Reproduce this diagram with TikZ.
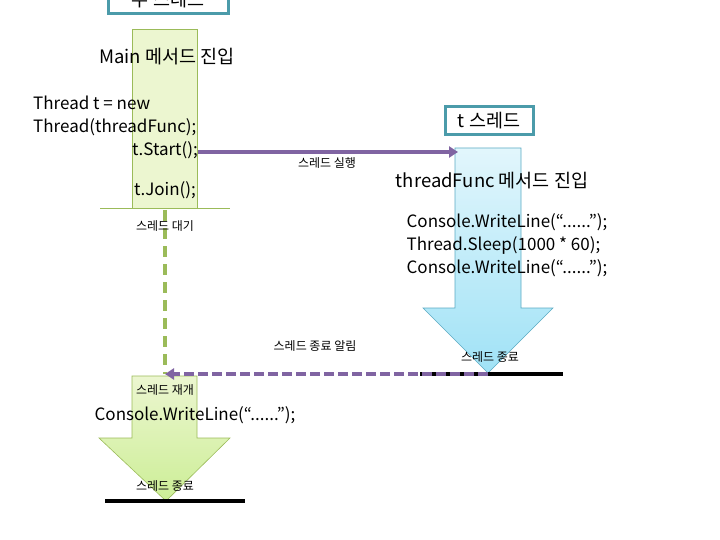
\documentclass[tikz,border=0pt]{standalone}
\usepackage{fontspec}
\setmainfont{Noto Sans CJK KR}
\usetikzlibrary{positioning, arrows.meta}

\definecolor{boxteal}{RGB}{75,155,170}
\definecolor{runpurple}{RGB}{128,100,162}
\definecolor{waitgreen}{RGB}{155,187,89}
\definecolor{mainfill}{RGB}{236,246,208}
\definecolor{mainfilldark}{RGB}{204,238,150}
\definecolor{subfill}{RGB}{226,246,252}
\definecolor{subfilldark}{RGB}{160,226,246}
\definecolor{subline}{RGB}{90,170,195}

\begin{document}
\begin{tikzpicture}[
    x=1pt, y=-1pt,
    >={Triangle[length=9pt,width=11pt]},
    bigtxt/.style={inner sep=0pt, font=\fontsize{18.5}{23}\selectfont},
    codetxt/.style={inner sep=0pt, font=\fontsize{17}{23}\selectfont},
    smalltxt/.style={inner sep=0pt, font=\fontsize{12}{14}\selectfont},
    threadbox/.style={rectangle, draw=boxteal, line width=3pt, fill=white,
        minimum width=88pt, minimum height=28pt, inner sep=0pt,
        font=\fontsize{18.5}{23}\selectfont},
    mainbody/.style={draw=waitgreen, line width=0.6pt, top color=mainfill, bottom color=mainfilldark},
    subbody/.style={draw=subline, line width=0.6pt, top color=subfill, bottom color=subfilldark},
    runline/.style={runpurple, line width=4pt},
    endline/.style={black, line width=4pt}
]
\useasboundingbox (0,0) rectangle (720,540);
\clip (0,0) rectangle (720,540);

% main thread
\node[threadbox, minimum width=120pt] (mainbox) at (168,0) {주 스레드};
\fill[mainfill] (132,29) rectangle (197,208);
\draw[waitgreen, line width=0.6pt] (132,208) -- (132,29) -- (197,29) -- (197,208);
\draw[waitgreen, line width=0.8pt] (100,208) -- (230,208);
\coordinate (joinend) at (165,210);

\node[bigtxt] (mainin) at (167,57) {Main 메서드 진입};
\node[codetxt, anchor=west, align=left] (newt) at (33,116) {Thread t = new\\Thread(threadFunc);};
\node[codetxt, anchor=east] (start) at (198,150) {t.Start();};
\node[codetxt] (join) at (165,190) {t.Join();};

% t thread
\node[threadbox] (tbox) at (489,121) {t 스레드};
\path[subbody] (455,148) -- (521,148) -- (521,308) -- (553,308) -- (488,373)
    -- (423,308) -- (455,308) -- cycle;
\coordinate (tin) at (458,152);
\coordinate (tend) at (488,374);
\draw[endline] (420,374) -- (563,374);

\node[bigtxt] (tfunc) at (492,181) {threadFunc 메서드 진입};
\node[codetxt, align=left] (tbody) at (507,245) {Console.WriteLine(“......”);\\Thread.Sleep(1000 * 60);\\Console.WriteLine(“......”);};

% main thread again
\path[mainbody] (132,376) -- (197,376) -- (197,438) -- (230,438) -- (166,501)
    -- (99,438) -- (132,438) -- cycle;
\coordinate (resume) at (165,374);
\draw[endline] (105,501) -- (245,501);

\node[codetxt] (mainwrite) at (195,415) {Console.WriteLine(“......”);};

% arrows
\draw[->, runline] (start.east |- 0,152) -- (tin);
\draw[waitgreen, line width=4pt, dash pattern=on 11pt off 7pt] (joinend) -- (resume);
\draw[->, runline, dash pattern=on 10pt off 4pt] (tend) -- (resume);

% labels
\node[smalltxt] (runlbl) at (327,163) {스레드 실행};
\node[smalltxt] (waitlbl) at (165,226) {스레드 대기};
\node[smalltxt] (notelbl) at (315,346) {스레드 종료 알림};
\node[smalltxt] (tendlbl) at (490,357) {스레드 종료};
\node[smalltxt] (resumelbl) at (165,390) {스레드 재개};
\node[smalltxt] (mainendlbl) at (165,486) {스레드 종료};

\end{tikzpicture}
\end{document}
